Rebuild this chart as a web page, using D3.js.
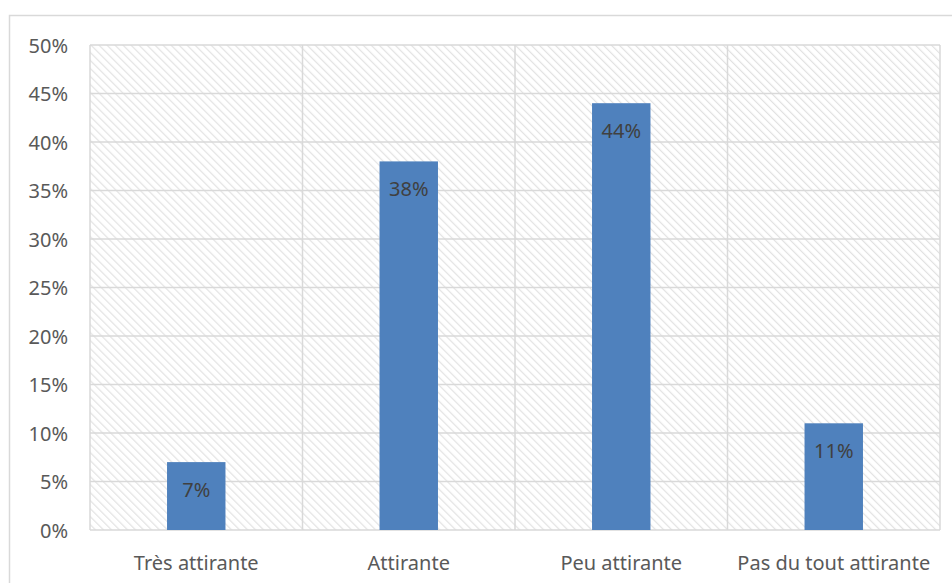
<!DOCTYPE html>
<html>
<head>
<meta charset="utf-8">
<script src="https://cdn.jsdelivr.net/npm/d3@7"></script>
<style>
  html, body { margin: 0; padding: 0; background: #fff; }
  svg { display: block; }
</style>
</head>
<body>
<svg id="chart" width="952" height="583"></svg>
<script>
// Appréciation : répartition des réponses
const categories = ["Très attirante", "Attirante", "Peu attirante", "Pas du tout attirante"];
const values = [0.07, 0.38, 0.44, 0.11];
const yTicks = [0, 0.05, 0.10, 0.15, 0.20, 0.25, 0.30, 0.35, 0.40, 0.45, 0.50];

const svg = d3.select("#chart");
const W = 952, H = 583;
const margin = { left: 90, right: 12, top: 45, bottom: 53 };
const plotW = W - margin.left - margin.right;
const plotH = H - margin.top - margin.bottom;
const font = "'Noto Sans', 'Open Sans', sans-serif";
const fontSize = 20;

// chart frame
svg.append("rect")
  .attr("x", 9.5).attr("y", 15.5)
  .attr("width", W + 20).attr("height", H + 20)
  .attr("fill", "none").attr("stroke", "#d9d9d9").attr("stroke-width", 1.5);

// diagonal hatch fill for the plot area
const defs = svg.append("defs");
const pat = defs.append("pattern")
  .attr("id", "hatch")
  .attr("patternUnits", "userSpaceOnUse")
  .attr("width", 5.66).attr("height", 5.66)
  .attr("patternTransform", "rotate(-45)");
pat.append("rect").attr("width", 5.66).attr("height", 5.66).attr("fill", "#ffffff");
pat.append("line")
  .attr("x1", 0).attr("y1", 0).attr("x2", 0).attr("y2", 5.66)
  .attr("stroke", "#e2e2e2").attr("stroke-width", 2.4);

const g = svg.append("g").attr("transform", `translate(${margin.left},${margin.top})`);

const x = d3.scaleBand().domain(categories).range([0, plotW]).paddingInner(0).paddingOuter(0);
const y = d3.scaleLinear().domain([0, 0.5]).range([plotH, 0]);

g.append("rect")
  .attr("x", 0).attr("y", 0).attr("width", plotW).attr("height", plotH)
  .attr("fill", "url(#hatch)");

// horizontal gridlines
g.selectAll("line.hgrid").data(yTicks).join("line")
  .attr("class", "hgrid")
  .attr("x1", 0).attr("x2", plotW)
  .attr("y1", d => y(d)).attr("y2", d => y(d))
  .attr("stroke", "#d9d9d9").attr("stroke-width", 1.5);

// vertical lines at category boundaries
const bounds = categories.map(c => x(c)).concat([plotW]);
g.selectAll("line.vgrid").data(bounds).join("line")
  .attr("class", "vgrid")
  .attr("x1", d => d).attr("x2", d => d)
  .attr("y1", 0).attr("y2", plotH)
  .attr("stroke", "#d9d9d9").attr("stroke-width", 1.5);

// bars
const barW = x.bandwidth() * 0.275;
g.selectAll("rect.bar").data(categories).join("rect")
  .attr("class", "bar")
  .attr("x", (d) => x(d) + x.bandwidth() / 2 - barW / 2)
  .attr("y", (d, i) => y(values[i]))
  .attr("width", barW)
  .attr("height", (d, i) => plotH - y(values[i]))
  .attr("fill", "#4f81bd");

// value labels
g.selectAll("text.val").data(categories).join("text")
  .attr("class", "val")
  .attr("x", d => x(d) + x.bandwidth() / 2)
  .attr("y", (d, i) => y(values[i]) + 34.5)
  .attr("text-anchor", "middle")
  .attr("font-family", font).attr("font-size", fontSize)
  .attr("fill", "#404040")
  .text((d, i) => Math.round(values[i] * 100) + "%");

// y axis labels
const yAxis = d3.axisLeft(y).tickValues(yTicks).tickSize(0).tickPadding(22)
  .tickFormat(d => Math.round(d * 100) + "%");
const ya = g.append("g").call(yAxis);
ya.select(".domain").remove();
ya.selectAll("text")
  .attr("dy", "0.36em")
  .attr("font-family", font).attr("font-size", fontSize).attr("fill", "#595959");

// x axis labels
const xAxis = d3.axisBottom(x).tickSize(0);
const xa = g.append("g").attr("transform", `translate(0,${plotH})`).call(xAxis);
xa.select(".domain").remove();
xa.selectAll("text")
  .attr("y", 40).attr("dy", 0)
  .attr("font-family", font).attr("font-size", fontSize).attr("fill", "#595959");
</script>
</body>
</html>
